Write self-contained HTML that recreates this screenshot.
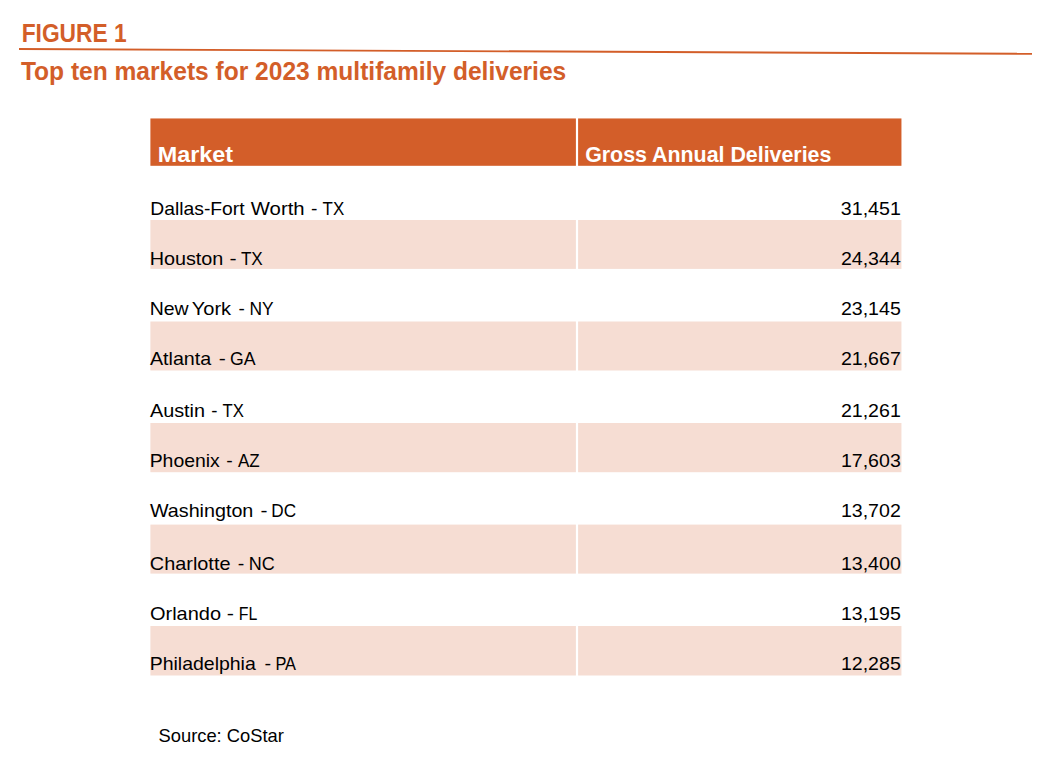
<!DOCTYPE html>
<html><head><meta charset="utf-8"><style>
html,body{margin:0;padding:0;background:#fff}
body{width:1060px;height:782px;position:relative;overflow:hidden;font-family:"Liberation Sans",sans-serif}
.t{position:absolute;white-space:pre;line-height:1;transform-origin:0 0}
.t.r{transform-origin:100% 0}
.bx{position:absolute}
</style></head><body>
<svg width="1060" height="782" style="position:absolute;left:0;top:0"><line x1="19" y1="49.0" x2="1032" y2="53.8" stroke="#d35e29" stroke-width="1.9"/><rect x="150.4" y="220" width="425.50" height="48.90" fill="#f6ddd3"/><rect x="578.1" y="220" width="323.35" height="48.90" fill="#f6ddd3"/><rect x="150.4" y="321.5" width="425.50" height="49.00" fill="#f6ddd3"/><rect x="578.1" y="321.5" width="323.35" height="49.00" fill="#f6ddd3"/><rect x="150.4" y="423" width="425.50" height="49.20" fill="#f6ddd3"/><rect x="578.1" y="423" width="323.35" height="49.20" fill="#f6ddd3"/><rect x="150.4" y="524.6" width="425.50" height="49.00" fill="#f6ddd3"/><rect x="578.1" y="524.6" width="323.35" height="49.00" fill="#f6ddd3"/><rect x="150.4" y="626" width="425.50" height="49.50" fill="#f6ddd3"/><rect x="578.1" y="626" width="323.35" height="49.50" fill="#f6ddd3"/><rect x="150.4" y="118.45" width="425.50" height="47.35" fill="#d35e29"/><rect x="578.1" y="118.45" width="323.35" height="47.35" fill="#d35e29"/></svg>
<div id="fig" class="t" style="left:21px;top:21px;font-size:25.8px;font-weight:700;color:#d35e29;transform:translate(0.670px,0.070px) scaleX(0.8826)">FIGURE 1</div>
<div id="title" class="t" style="left:20px;top:59px;font-size:25.8px;font-weight:700;color:#d35e29;transform:translate(0.900px,0.070px) scaleX(0.9517)">Top ten markets for 2023 multifamily deliveries</div>
<div id="h1" class="t" style="left:157px;top:144px;font-size:22px;font-weight:700;color:#ffffff;transform:translate(0.670px,0.100px) scaleX(1.0635)">Market</div>
<div id="h2" class="t" style="left:585px;top:144px;font-size:22px;font-weight:700;color:#ffffff;transform:translate(0.180px,0.100px) scaleX(0.9712)">Gross Annual Deliveries</div>
<div id="r1_0" class="t" style="left:150px;top:200px;font-size:18.55px;font-weight:400;color:#000000;transform:translate(0.280px,0.232px) scaleX(1.0412)">Dallas-Fort</div>
<div id="r1_1" class="t" style="left:250px;top:200px;font-size:18.55px;font-weight:400;color:#000000;transform:translate(0.810px,0.232px) scaleX(1.0956)">Worth</div>
<div id="r1_2" class="t" style="left:310px;top:200px;font-size:18.55px;font-weight:400;color:#000000;transform:translate(0.960px,0.232px) scaleX(1.0390)">-</div>
<div id="r1_3" class="t" style="left:322px;top:200px;font-size:18.55px;font-weight:400;color:#000000;transform:translate(0.560px,0.232px) scaleX(0.9130)">TX</div>
<div id="r2_0" class="t" style="left:149px;top:250px;font-size:18.55px;font-weight:400;color:#000000;transform:translate(0.630px,0.232px) scaleX(1.0681)">Houston</div>
<div id="r2_1" class="t" style="left:229px;top:250px;font-size:18.55px;font-weight:400;color:#000000;transform:translate(0.510px,0.232px) scaleX(1.1515)">-</div>
<div id="r2_2" class="t" style="left:240px;top:250px;font-size:18.55px;font-weight:400;color:#000000;transform:translate(0.910px,0.232px) scaleX(0.9235)">TX</div>
<div id="r3_0" class="t" style="left:149px;top:300px;font-size:18.55px;font-weight:400;color:#000000;transform:translate(0.730px,0.233px) scaleX(1.0505)">New</div>
<div id="r3_1" class="t" style="left:191px;top:300px;font-size:18.55px;font-weight:400;color:#000000;transform:translate(0.760px,0.233px) scaleX(1.0802)">York</div>
<div id="r3_2" class="t" style="left:238px;top:300px;font-size:18.55px;font-weight:400;color:#000000;transform:translate(0.540px,0.233px) scaleX(1.0219)">-</div>
<div id="r3_3" class="t" style="left:249px;top:300px;font-size:18.55px;font-weight:400;color:#000000;transform:translate(0.480px,0.233px) scaleX(0.9381)">NY</div>
<div id="r4_0" class="t" style="left:149px;top:350px;font-size:18.55px;font-weight:400;color:#000000;transform:translate(0.910px,0.233px) scaleX(1.0620)">Atlanta</div>
<div id="r4_1" class="t" style="left:218px;top:350px;font-size:18.55px;font-weight:400;color:#000000;transform:translate(0.760px,0.233px) scaleX(1.1390)">-</div>
<div id="r4_2" class="t" style="left:230px;top:350px;font-size:18.55px;font-weight:400;color:#000000;transform:translate(0.080px,0.233px) scaleX(0.9527)">GA</div>
<div id="r5_0" class="t" style="left:149px;top:402px;font-size:18.55px;font-weight:400;color:#000000;transform:translate(0.920px,0.233px) scaleX(1.0698)">Austin</div>
<div id="r5_1" class="t" style="left:211px;top:402px;font-size:18.55px;font-weight:400;color:#000000;transform:translate(0.210px,0.233px) scaleX(1.0085)">-</div>
<div id="r5_2" class="t" style="left:222px;top:402px;font-size:18.55px;font-weight:400;color:#000000;transform:translate(0.550px,0.233px) scaleX(0.9020)">TX</div>
<div id="r6_0" class="t" style="left:149px;top:452px;font-size:18.55px;font-weight:400;color:#000000;transform:translate(0.660px,0.233px) scaleX(1.0477)">Phoenix</div>
<div id="r6_1" class="t" style="left:226px;top:452px;font-size:18.55px;font-weight:400;color:#000000;transform:translate(0.150px,0.233px) scaleX(1.0463)">-</div>
<div id="r6_2" class="t" style="left:237px;top:452px;font-size:18.55px;font-weight:400;color:#000000;transform:translate(0.910px,0.233px) scaleX(0.9190)">AZ</div>
<div id="r7_0" class="t" style="left:149px;top:502px;font-size:18.55px;font-weight:400;color:#000000;transform:translate(0.940px,0.233px) scaleX(1.0641)">Washington</div>
<div id="r7_1" class="t" style="left:260px;top:502px;font-size:18.55px;font-weight:400;color:#000000;transform:translate(0.410px,0.233px) scaleX(1.1331)">-</div>
<div id="r7_2" class="t" style="left:271px;top:502px;font-size:18.55px;font-weight:400;color:#000000;transform:translate(0.310px,0.233px) scaleX(0.9266)">DC</div>
<div id="r8_0" class="t" style="left:149px;top:554px;font-size:18.55px;font-weight:400;color:#000000;transform:translate(0.870px,0.732px) scaleX(1.0716)">Charlotte</div>
<div id="r8_1" class="t" style="left:237px;top:554px;font-size:18.55px;font-weight:400;color:#000000;transform:translate(0.850px,0.732px) scaleX(1.0598)">-</div>
<div id="r8_2" class="t" style="left:248px;top:554px;font-size:18.55px;font-weight:400;color:#000000;transform:translate(0.690px,0.732px) scaleX(0.9684)">NC</div>
<div id="r9_0" class="t" style="left:149px;top:605px;font-size:18.55px;font-weight:400;color:#000000;transform:translate(0.960px,0.232px) scaleX(1.0783)">Orlando</div>
<div id="r9_1" class="t" style="left:226px;top:605px;font-size:18.55px;font-weight:400;color:#000000;transform:translate(0.640px,0.232px) scaleX(1.1671)">-</div>
<div id="r9_2" class="t" style="left:238px;top:605px;font-size:18.55px;font-weight:400;color:#000000;transform:translate(0.830px,0.232px) scaleX(0.8567)">FL</div>
<div id="r10_0" class="t" style="left:149px;top:655px;font-size:18.55px;font-weight:400;color:#000000;transform:translate(0.720px,0.232px) scaleX(1.0503)">Philadelphia</div>
<div id="r10_1" class="t" style="left:264px;top:655px;font-size:18.55px;font-weight:400;color:#000000;transform:translate(0.490px,0.232px) scaleX(1.0716)">-</div>
<div id="r10_2" class="t" style="left:275px;top:655px;font-size:18.55px;font-weight:400;color:#000000;transform:translate(0.420px,0.232px) scaleX(0.8829)">PA</div>
<div id="n1" class="t r" style="right:159px;top:200px;font-size:18.55px;font-weight:400;color:#000000;transform:translate(0.140px,0.232px) scaleX(1.0586)">31,451</div>
<div id="n2" class="t r" style="right:159px;top:250px;font-size:18.55px;font-weight:400;color:#000000;transform:translate(0.120px,0.232px) scaleX(1.0569)">24,344</div>
<div id="n3" class="t r" style="right:159px;top:300px;font-size:18.55px;font-weight:400;color:#000000;transform:translate(0.120px,0.233px) scaleX(1.0569)">23,145</div>
<div id="n4" class="t r" style="right:159px;top:350px;font-size:18.55px;font-weight:400;color:#000000;transform:translate(0.120px,0.233px) scaleX(1.0569)">21,667</div>
<div id="n5" class="t r" style="right:159px;top:402px;font-size:18.55px;font-weight:400;color:#000000;transform:translate(0.120px,0.233px) scaleX(1.0569)">21,261</div>
<div id="n6" class="t r" style="right:159px;top:452px;font-size:18.55px;font-weight:400;color:#000000;transform:translate(0.120px,0.233px) scaleX(1.0569)">17,603</div>
<div id="n7" class="t r" style="right:159px;top:502px;font-size:18.55px;font-weight:400;color:#000000;transform:translate(0.120px,0.233px) scaleX(1.0569)">13,702</div>
<div id="n8" class="t r" style="right:159px;top:554px;font-size:18.55px;font-weight:400;color:#000000;transform:translate(0.120px,0.732px) scaleX(1.0569)">13,400</div>
<div id="n9" class="t r" style="right:159px;top:605px;font-size:18.55px;font-weight:400;color:#000000;transform:translate(0.120px,0.232px) scaleX(1.0569)">13,195</div>
<div id="n10" class="t r" style="right:159px;top:655px;font-size:18.55px;font-weight:400;color:#000000;transform:translate(0.120px,0.232px) scaleX(1.0569)">12,285</div>
<div id="src" class="t" style="left:158px;top:725px;font-size:19px;font-weight:400;color:#000000;transform:translate(0.500px,0.850px) scaleX(0.9654)">Source: CoStar</div>
</body></html>
